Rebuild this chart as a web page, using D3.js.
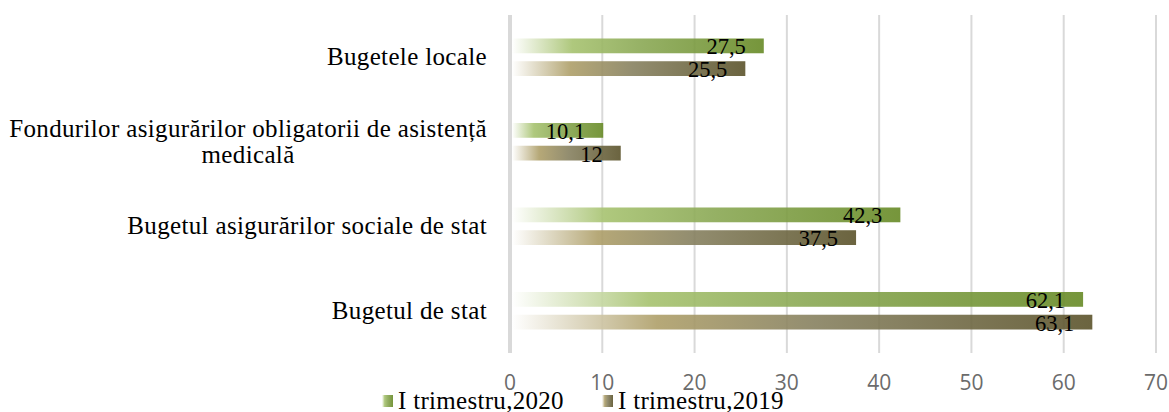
<!DOCTYPE html>
<html>
<head>
<meta charset="utf-8">
<script src="https://cdn.jsdelivr.net/npm/d3@7"></script>
<style>
  html, body { margin: 0; padding: 0; background: #fff; }
  svg { display: block; }
</style>
</head>
<body>
<svg id="chart" width="1169" height="412"></svg>
<script>
// ---- data ----
const categories = [
  "Bugetele locale",
  "Fondurilor asigurărilor obligatorii de asistență\nmedicală",
  "Bugetul asigurărilor sociale de stat",
  "Bugetul de stat"
];
const seriesNames = ["I trimestru,2020", "I trimestru,2019"];
const values2020 = [27.5, 10.1, 42.3, 62.1];
const values2019 = [25.5, 12, 37.5, 63.1];
const tickValues = [0, 10, 20, 30, 40, 50, 60, 70];

const seriesValues = [values2020, values2019];
// gradient stops per series (composited at 0.9 opacity)
const seriesStops = [
  [["0%", "#ffffff"], ["24%", "#a6c26f"], ["52%", "#8aa854"], ["100%", "#678a26"]],
  [["0%", "#ffffff"], ["25%", "#ae9f69"], ["52%", "#878160"], ["100%", "#5b532b"]]
];

const svg = d3.select("#chart");
const defs = svg.append("defs");
seriesStops.forEach((stops, i) => {
  const g = defs.append("linearGradient").attr("id", "grad" + i)
    .attr("x1", "0%").attr("x2", "100%").attr("y1", "0%").attr("y2", "0%");
  stops.forEach(s => g.append("stop").attr("offset", s[0]).attr("stop-color", s[1]));
});

const plotTop = 15, plotBottom = 353;
const x = d3.scaleLinear().domain([0, 70]).range([510, 1156]);
const y = d3.scaleBand().domain(categories).range([plotTop, plotBottom])
  .paddingInner(0.556).paddingOuter(0.278);
const ySub = d3.scaleBand().domain([0, 1]).range([0, y.bandwidth()]).paddingInner(0.35);

// gridlines
svg.append("g").selectAll("line").data(tickValues.filter(t => t > 0)).join("line")
  .attr("x1", d => x(d)).attr("x2", d => x(d))
  .attr("y1", plotTop).attr("y2", plotBottom)
  .attr("stroke", "#d9d9d9").attr("stroke-width", 2);

// tick labels
svg.append("g").selectAll("text").data(tickValues).join("text")
  .attr("x", d => x(d)).attr("y", 390)
  .attr("text-anchor", "middle")
  .attr("font-family", "'Open Sans', sans-serif").attr("font-size", 21)
  .attr("fill", "#6b6b6b")
  .text(d => d);

// bars
seriesValues.forEach((vals, si) => {
  const g = svg.append("g");
  g.selectAll("rect").data(vals).join("rect")
    .attr("x", x(0) + 2)
    .attr("y", (d, i) => y(categories[i]) + ySub(si))
    .attr("width", d => x(d) - x(0) - 2)
    .attr("height", ySub.bandwidth())
    .attr("fill", "url(#grad" + si + ")")
    .attr("fill-opacity", 0.9);
  g.selectAll("text").data(vals).join("text")
    .attr("x", d => x(d) - 18)
    .attr("y", (d, i) => y(categories[i]) + ySub(si) + ySub.bandwidth() + 1)
    .attr("text-anchor", "end")
    .attr("font-family", "'Liberation Serif', 'Times New Roman', serif")
    .attr("font-size", 22.5)
    .attr("fill", "#000")
    .text(d => String(d).replace(".", ","));
});

// vertical axis line at 0
svg.append("line")
  .attr("x1", x(0)).attr("x2", x(0))
  .attr("y1", plotTop).attr("y2", plotBottom)
  .attr("stroke", "#d9d9d9").attr("stroke-width", 4);

// category labels
const labelRight = 487, lineH = 26;
categories.forEach(c => {
  const lines = c.split("\n");
  const cy = y(c) + y.bandwidth() / 2;
  const t = svg.append("text")
    .attr("font-family", "'Liberation Serif', 'Times New Roman', serif")
    .attr("font-size", 25)
    .attr("letter-spacing", "0.35px")
    .attr("fill", "#000")
    .attr("text-anchor", "middle");
  const spans = lines.map((l, i) => t.append("tspan")
    .attr("y", cy + 8 - (lines.length - 1) * lineH / 2 + i * lineH)
    .text(l));
  const maxW = d3.max(spans, s => s.node().getComputedTextLength());
  spans.forEach(s => s.attr("x", labelRight - maxW / 2));
});

// legend
const legendX = [382, 602];
seriesNames.forEach((n, i) => {
  const gl = svg.append("g");
  gl.append("rect").attr("x", legendX[i]).attr("y", 395)
    .attr("width", 11).attr("height", 12)
    .attr("fill", "url(#grad" + i + ")").attr("fill-opacity", 0.9);
  gl.append("text").attr("x", legendX[i] + 16).attr("y", 409)
    .attr("font-family", "'Liberation Serif', 'Times New Roman', serif")
    .attr("font-size", 25)
    .attr("letter-spacing", "0.3px")
    .attr("fill", "#000")
    .text(n);
});
</script>
</body>
</html>
